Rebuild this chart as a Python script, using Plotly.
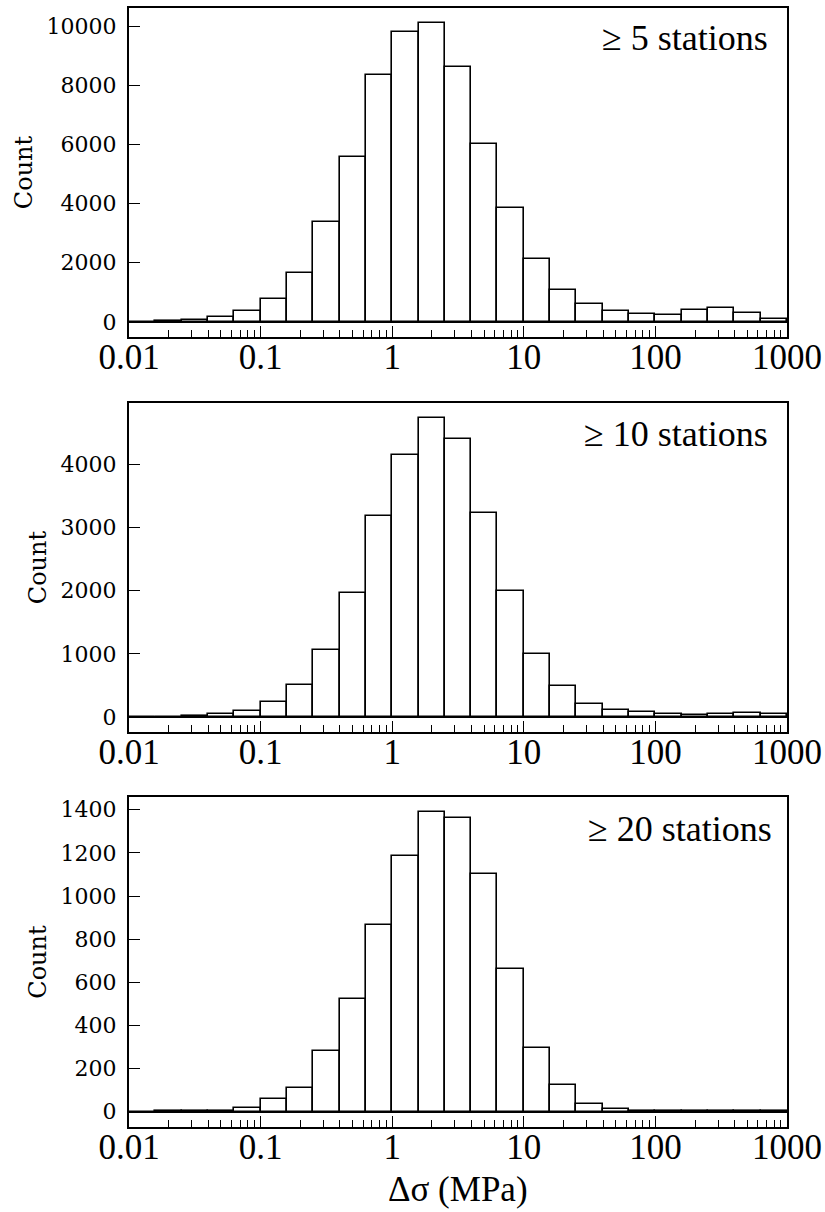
import numpy as np
import plotly.graph_objects as go

# log10 bin edges: 5 bins per decade from 0.01 to 1000
edges_log = [-2.0 + 0.2 * k for k in range(26)]
counts_5 = [5, 20, 60, 180, 370, 790, 1660, 3370, 5590, 8350, 9800, 10110, 8600,
            6030, 3866, 2119, 1093, 620, 372, 259, 237, 394, 462, 304, 113]
counts_10 = [5, 5, 15, 50, 100, 237, 512, 1055, 1958, 3177, 4153, 4733, 4401,
             3230, 1990, 1003, 485, 211, 116, 74, 47, 37, 53, 58, 47]
counts_20 = [0, 2, 3, 5, 19, 60, 110, 280, 522, 864, 1185, 1389, 1363,
             1101, 661, 297, 122, 36, 12, 5, 2, 1, 1, 3, 2]
labels = ["≥ 5 stations", "≥ 10 stations", "≥ 20 stations"]
y_ticks = [list(range(0, 10001, 2000)), list(range(0, 4001, 1000)), list(range(0, 1401, 200))]
y_ranges = [[-507, 10608], [-237, 4971], [-71, 1459]]
x_tickvals = [0.01, 0.1, 1, 10, 100, 1000]
x_ticktext = ["0.01", "0.1", "1", "10", "100", "1000"]

lo = np.power(10.0, edges_log[:-1])
hi = np.power(10.0, edges_log[1:])
centers = (lo + hi) / 2
widths = hi - lo

minor_vals = [m * 10.0 ** d for d in range(-2, 3) for m in range(2, 10)]

W, H = 825, 1212
ml, mr, mt, mb = 129, 38, 8, 85
ph = H - mt - mb
panels_px = [(8, 337), (403, 732), (797, 1127)]  # pixel top/bottom of each panel
domains = [[(H - mb - b) / ph, (H - mb - t) / ph] for t, b in panels_px]
ann_dy = [30, 31, 32]
ann_x = [0.974, 0.974, 0.980]

fig = go.Figure()
series = [counts_5, counts_10, counts_20]
for i, cnt in enumerate(series):
    xa = "x" if i == 0 else f"x{i+1}"
    ya = "y" if i == 0 else f"y{i+1}"
    fig.add_trace(go.Bar(x=centers, y=cnt, width=widths, xaxis=xa, yaxis=ya,
                         marker=dict(color="white", line=dict(color="black", width=1.6)),
                         showlegend=False, hoverinfo="skip"))
    xk = "xaxis" if i == 0 else f"xaxis{i+1}"
    yk = "yaxis" if i == 0 else f"yaxis{i+1}"
    fig.layout[xk] = dict(type="log", range=[-2, 3], domain=[0, 1], anchor=ya,
                          tickvals=x_tickvals, ticktext=x_ticktext,
                          ticks="inside", ticklen=11, tickwidth=1.3, tickcolor="black",
                          minor=dict(tickvals=minor_vals, ticks="inside", ticklen=7,
                                     tickwidth=1.3, tickcolor="black", showgrid=False),
                          showline=True, mirror=True, linecolor="black", linewidth=2,
                          showgrid=False, zeroline=False,
                          tickfont=dict(family="Liberation Serif", size=35, color="black"),
                          ticklabelstandoff=-12)
    fig.layout[yk] = dict(range=y_ranges[i], domain=domains[i], anchor=xa,
                          tickvals=y_ticks[i], ticktext=[str(v) for v in y_ticks[i]],
                          ticks="inside", ticklen=11, tickwidth=1.3, tickcolor="black",
                          showline=True, mirror=True, linecolor="black", linewidth=2,
                          showgrid=False, zeroline=True, zerolinecolor="black", zerolinewidth=1.6,
                          tickfont=dict(family="DejaVu Serif", size=22, color="black"),
                          ticklabelstandoff=6,
                          title=dict(text="Count", font=dict(family="DejaVu Serif", size=24, color="black"),
                                     standoff=7))
    panel_h = panels_px[i][1] - panels_px[i][0]
    fig.add_annotation(text=labels[i], xref=f"{xa} domain", yref=f"{ya} domain",
                       x=ann_x[i], y=1 - ann_dy[i] / panel_h, xanchor="right", yanchor="middle",
                       showarrow=False, font=dict(family="Liberation Serif", size=36, color="black"))

# x-axis title below the bottom panel
fig.add_annotation(text="Δσ (MPa)", xref="paper", yref="paper", x=0.5,
                   y=(H - mb - 1211) / ph, xanchor="center", yanchor="bottom", showarrow=False,
                   font=dict(family="Liberation Serif", size=35, color="black"))

fig.update_layout(width=W, height=H, margin=dict(l=ml, r=mr, t=mt, b=mb, autoexpand=False),
                  plot_bgcolor="white", paper_bgcolor="white", bargap=0)
fig.write_html("out.html", config={"displayModeBar": False},
               post_script="document.body.style.margin='0';")
